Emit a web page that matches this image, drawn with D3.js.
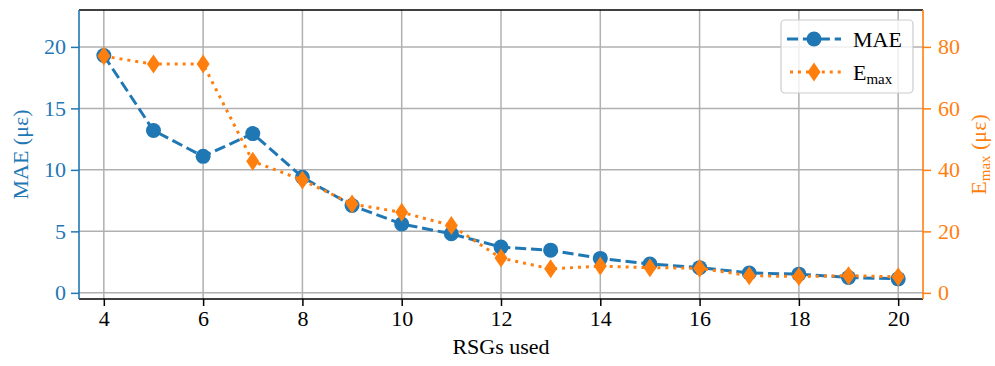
<!DOCTYPE html>
<html><head><meta charset="utf-8">
<script src="https://cdn.jsdelivr.net/npm/d3@7"></script>
<style>body{margin:0;background:#fff}svg{display:block}svg text{font-family:"Liberation Serif","Times New Roman",serif !important}</style>
</head><body><svg id="c" width="995" height="366" font-family="Liberation Serif"></svg>
<script>
const rsgs = [4,5,6,7,8,9,10,11,12,13,14,15,16,17,18,19,20];
const mae  = [19.3,13.2,11.1,12.95,9.4,7.1,5.6,4.8,3.72,3.47,2.8,2.35,2.05,1.62,1.52,1.25,1.14];
const emax = [77.0,74.4,74.4,42.8,36.7,28.9,26.2,21.9,11.3,7.8,8.7,8.2,8.0,5.6,5.3,5.6,5.2];
const xTicks = [4,6,8,10,12,14,16,18,20];
const yLeftTicks = [0,5,10,15,20];
const yRightTicks = [0,20,40,60,80];

const blue = "#1f77b4", orange = "#ff7f0e";
const FF = "Liberation Serif";
const L = 79, R = 923, T = 10, B = 299;
const svg = d3.select("#c");
const x = d3.scaleLinear().domain([3.5,20.5]).range([L,R]);
const yL = d3.scaleLinear().domain([-0.5,23]).range([B,T]);
const yR = d3.scaleLinear().domain([-2,92]).range([B,T]);

// grid
const g = svg.append("g");
g.selectAll(".vx").data(xTicks).enter().append("line")
  .attr("x1",d=>x(d)).attr("x2",d=>x(d)).attr("y1",T).attr("y2",B)
  .attr("stroke","#b0b0b0").attr("stroke-width",1.5);
g.selectAll(".hy").data(yLeftTicks).enter().append("line")
  .attr("x1",L).attr("x2",R).attr("y1",d=>yL(d)).attr("y2",d=>yL(d))
  .attr("stroke","#b0b0b0").attr("stroke-width",1.5);

// axes
const fs = "22px", fsub = "15px";
const ax = svg.append("g").attr("transform",`translate(0,${B})`)
  .call(d3.axisBottom(x).tickValues(xTicks).tickSize(7).tickPadding(4).tickFormat(d3.format("d")))
  .attr("font-family",FF);
ax.select(".domain").remove();
ax.selectAll("line").attr("stroke","#000").attr("stroke-width",1.5);
ax.selectAll("text").attr("font-size",fs).attr("fill","#000").attr("font-family",FF);

const al = svg.append("g").attr("transform",`translate(${L},0)`)
  .call(d3.axisLeft(yL).tickValues(yLeftTicks).tickSize(8).tickPadding(5))
  .attr("font-family",FF);
al.select(".domain").remove();
al.selectAll("line").attr("stroke",blue).attr("stroke-width",1.5);
al.selectAll("text").attr("font-size",fs).attr("fill",blue).attr("font-family",FF);

const ar = svg.append("g").attr("transform",`translate(${R},0)`)
  .call(d3.axisRight(yR).tickValues(yRightTicks).tickSize(8).tickPadding(7))
  .attr("font-family",FF);
ar.select(".domain").remove();
ar.selectAll("line").attr("stroke",orange).attr("stroke-width",1.5);
ar.selectAll("text").attr("font-size",fs).attr("fill",orange).attr("font-family",FF);

// spines
svg.append("line").attr("x1",L).attr("x2",R).attr("y1",T).attr("y2",T).attr("stroke","#000").attr("stroke-width",1.6);
svg.append("line").attr("x1",L).attr("x2",R).attr("y1",B).attr("y2",B).attr("stroke","#000").attr("stroke-width",1.6);
svg.append("line").attr("x1",L).attr("x2",L).attr("y1",T).attr("y2",B).attr("stroke",blue).attr("stroke-width",1.6);
svg.append("line").attr("x1",R).attr("x2",R).attr("y1",T).attr("y2",B).attr("stroke",orange).attr("stroke-width",1.6);

// labels
svg.append("text").attr("x",(L+R)/2).attr("y",354).attr("text-anchor","middle")
  .attr("font-size",fs).attr("fill","#000").text("RSGs used");
svg.append("text").attr("transform",`translate(28,${(T+B)/2}) rotate(-90)`).attr("text-anchor","middle")
  .attr("font-size",fs).attr("fill",blue).text("MAE (με)");
const rl = svg.append("text").attr("transform",`translate(986,${(T+B)/2}) rotate(-90)`).attr("text-anchor","middle")
  .attr("font-size",fs).attr("fill",orange);
rl.append("tspan").text("E");
rl.append("tspan").attr("font-size",fsub).attr("dy",4).text("max");
rl.append("tspan").attr("dy",-4).text(" (με)");

// series
const lineL = d3.line().x((d,i)=>x(rsgs[i])).y(d=>yL(d));
const lineR = d3.line().x((d,i)=>x(rsgs[i])).y(d=>yR(d));
svg.append("path").attr("d",lineL(mae)).attr("fill","none").attr("stroke",blue)
  .attr("stroke-width",3).attr("stroke-dasharray","11.1,4.8");
svg.selectAll(".mc").data(mae).enter().append("circle")
  .attr("cx",(d,i)=>x(rsgs[i])).attr("cy",d=>yL(d)).attr("r",7.5).attr("fill",blue);

const diamond = (cx,cy)=>`M${cx},${cy-9.5}L${cx+6.5},${cy}L${cx},${cy+9.5}L${cx-6.5},${cy}Z`;
svg.append("path").attr("d",lineR(emax)).attr("fill","none").attr("stroke",orange)
  .attr("stroke-width",3).attr("stroke-dasharray","3,4.95");
svg.selectAll(".ed").data(emax).enter().append("path")
  .attr("d",(d,i)=>diamond(x(rsgs[i]),yR(d))).attr("fill",orange);

// legend
const lg = svg.append("g");
lg.append("rect").attr("x",781).attr("y",20).attr("width",132).attr("height",73).attr("rx",4)
  .attr("fill","#fff").attr("fill-opacity",0.8).attr("stroke","#cccccc").attr("stroke-width",1.2);
lg.append("line").attr("x1",787).attr("x2",841).attr("y1",39).attr("y2",39).attr("stroke",blue)
  .attr("stroke-width",3).attr("stroke-dasharray","11.1,4.8");
lg.append("circle").attr("cx",814).attr("cy",39).attr("r",7.5).attr("fill",blue);
lg.append("line").attr("x1",790).attr("x2",841).attr("y1",72).attr("y2",72).attr("stroke",orange)
  .attr("stroke-width",3).attr("stroke-dasharray","3,4.95");
lg.append("path").attr("d",diamond(814,72)).attr("fill",orange);
lg.append("text").attr("x",853).attr("y",47).attr("font-size",fs).attr("fill","#000").text("MAE");
const et = lg.append("text").attr("x",853).attr("y",80).attr("font-size",fs).attr("fill","#000");
et.append("tspan").text("E");
et.append("tspan").attr("font-size",fsub).attr("dy",4).text("max");
</script></body></html>
